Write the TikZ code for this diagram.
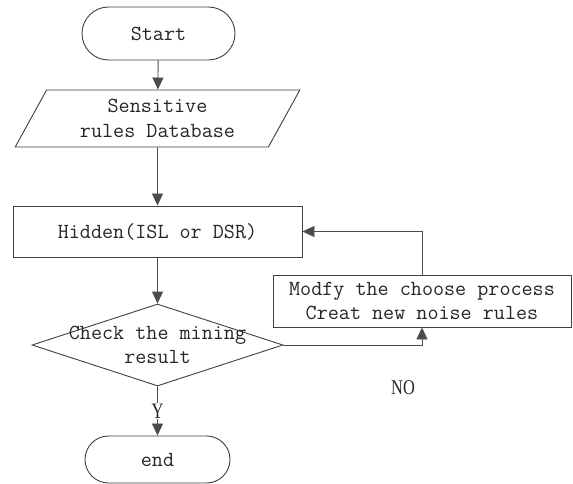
\documentclass[tikz,border=0pt]{standalone}
\usepackage{fontspec}
\newfontfamily\labelfont{Liberation Serif}
\usetikzlibrary{shapes.geometric,shapes.misc,arrows.meta}
\begin{document}
\begin{tikzpicture}[x=1pt,y=1pt,
  every node/.style={font=\ttfamily\fontsize{21.5}{24.5}\selectfont, text=black!85},
  flow/.style={draw=black!75, line width=0.9pt},
  term/.style={flow, rounded rectangle, minimum width=#1, minimum height=50, inner sep=0pt},
  procbox/.style={flow, rectangle, align=center, inner sep=0pt},
  conn/.style={draw=black!70, line width=0.9pt, -{Triangle[width=11pt,length=12pt]}},
  lbl/.style={font=\labelfont\fontsize{21}{23}\selectfont, text=black!85}
]
\useasboundingbox (0,0) rectangle (573,-484);
\fill[white] (0,0) rectangle (573,-484);

\node[term=153, minimum height=53] (start) at (158.5,-33.5) {Start};
\node[flow, trapezium, trapezium left angle=60, trapezium right angle=120,
      trapezium stretches=true, minimum width=285, minimum height=57,
      inner sep=0pt, align=center] (db) at (157.5,-118.5) {Sensitive\\rules Database};
\node[procbox, minimum width=289, minimum height=51] (hidden) at (157.5,-231.5) {Hidden(ISL or DSR)};
\node[flow, diamond, minimum width=251, minimum height=82, inner sep=0pt,
      label={[align=center, font=\ttfamily\fontsize{21.5}{24.5}\selectfont, text=black!85]center:Check the mining\\result}] (check) at (157.5,-345) {};
\node[procbox, minimum width=298, minimum height=52] (modfy) at (422,-301) {Modfy the choose process\\Creat new noise rules};
\node[term=145, minimum height=47] (end) at (157.5,-459.5) {end};

\draw[conn] (start) -- (db);
\draw[conn] (db) -- (hidden);
\draw[conn] (hidden) -- (check);
\draw[conn] (check) -- node[fill=white, inner sep=1pt, pos=0.5, lbl, font=\labelfont\fontsize{22}{24}\selectfont] (y) {\scalebox{0.75}[1]{Y}} (end);
\draw[conn] (check.east) -| (modfy.south);
\draw[conn] (modfy.north) |- (hidden.east);
\node[lbl] (no) at (403,-388) {\scalebox{0.78}[1]{NO}};
\end{tikzpicture}
\end{document}
